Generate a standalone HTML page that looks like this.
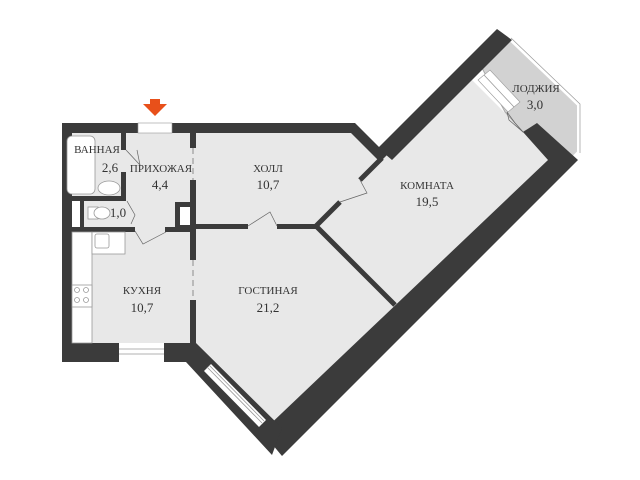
<!DOCTYPE html>
<html><head><meta charset="utf-8"><style>
html,body{margin:0;padding:0;background:#fff;width:640px;height:480px;overflow:hidden}
text{font-family:"Liberation Serif",serif;fill:#333;text-anchor:middle}
.l{font-size:11px}.n{font-size:13px}
</style></head><body>
<svg width="640" height="480" viewBox="0 0 640 480" xmlns="http://www.w3.org/2000/svg">
<polygon points="72,133 355,133 380,157 468,76 550,158 282,428 196,343 72,343" fill="#e8e8e8"/>
<polygon points="482,68 510,40 578,105 578,152 570,160 537,125 523,132 505,112" fill="#d2d2d2" stroke="#aaa" stroke-width="1"/>
<polyline points="510,40 578,105 578,152 570,160" fill="none" stroke="#fff" stroke-width="2"/>
<polyline points="511,38 580,104 580,153" fill="none" stroke="#999" stroke-width="0.7"/>
<g fill="#3b3b3b" stroke="none">
<rect x="62" y="123" width="10" height="239"/>
<rect x="62" y="123" width="293" height="10"/>
<rect x="62" y="343" width="126" height="19"/>
<polygon points="355,123 387,155 380,162 351,133"/>
<polygon points="378,148 497,29 512,40 392,160"/>
<polygon points="523,132 537,123 578,160 282,456 262,432 548,160"/>
<polygon points="180,343 196,343 282,428 272,455 186,362 180,362"/>
</g>
<rect x="138" y="123" width="34" height="10" fill="#fff" stroke="#999" stroke-width="0.6"/>
<rect x="119" y="343" width="45" height="19" fill="#fff"/>
<line x1="119" y1="349" x2="164" y2="349" stroke="#999" stroke-width="0.7"/>
<line x1="119" y1="354" x2="164" y2="354" stroke="#999" stroke-width="0.7"/>
<polygon points="204,371 211,364 266,420 259,427" fill="#fff"/>
<line x1="207" y1="367" x2="262" y2="423" stroke="#999" stroke-width="0.8"/>
<line x1="209" y1="365" x2="264" y2="421" stroke="#999" stroke-width="0.8"/>
<polygon points="478,80 490,70 520,102 508,112" fill="#fff" stroke="#999" stroke-width="0.6"/>
<line x1="484" y1="75" x2="514" y2="107" stroke="#999" stroke-width="0.8"/>
<polygon points="143,104 167,104 155,116" fill="#e8501a"/>
<rect x="150" y="99" width="10" height="6" fill="#e8501a"/>
<g fill="#3b3b3b">
<rect x="190" y="133" width="6" height="15"/>
<rect x="190" y="180" width="6" height="80"/>
<rect x="190" y="300" width="6" height="45"/>
<rect x="121" y="133" width="5" height="17"/>
<rect x="121" y="172" width="5" height="25"/>
<rect x="62" y="196" width="64" height="5"/>
<rect x="80" y="201" width="4" height="27"/>
<rect x="62" y="227" width="73" height="5"/>
<rect x="165" y="227" width="31" height="5"/>
<rect x="175" y="202" width="21" height="28"/>
<rect x="196" y="224" width="52" height="5"/>
<rect x="277" y="224" width="40" height="5"/>
</g>
<rect x="180" y="207" width="10" height="18" fill="#fff"/>
<line x1="316" y1="226" x2="395" y2="305" stroke="#3b3b3b" stroke-width="5"/>
<line x1="316" y1="226" x2="340" y2="202" stroke="#3b3b3b" stroke-width="5"/>
<line x1="360" y1="180" x2="382" y2="158" stroke="#3b3b3b" stroke-width="5"/>
<g fill="none" stroke="#666" stroke-width="0.7">
<polyline points="248,226 270,212 277,226"/>
<polyline points="340,202 367,193 360,180"/>
<polyline points="126,150 140,165 137,150"/>
<polyline points="135,231 143,244 166,232"/>
<polyline points="127,201 135,215 131,224"/>
<polyline points="507,112 515,123 523,132 509,120 507,112"/>
<line x1="193" y1="148" x2="193" y2="180" stroke-dasharray="6,4"/>
<line x1="193" y1="260" x2="193" y2="300" stroke-dasharray="6,4"/>
</g>
<g fill="#fff" stroke="#999" stroke-width="0.8">
<rect x="67" y="136" width="28" height="58" rx="5"/>
<ellipse cx="109" cy="188" rx="11" ry="7"/>
<rect x="72" y="201" width="8" height="26" stroke="none"/>
<rect x="88" y="207" width="10" height="12"/>
<ellipse cx="102" cy="213" rx="8" ry="6"/>
<rect x="72" y="232" width="20" height="111"/>
<rect x="92" y="232" width="33" height="22"/>
<rect x="95" y="234" width="14" height="14" rx="2"/>
<rect x="72" y="285" width="20" height="22"/>
<circle cx="77" cy="290" r="2.5"/><circle cx="86" cy="290" r="2.5"/>
<circle cx="77" cy="300" r="2.5"/><circle cx="86" cy="300" r="2.5"/>
</g>
<text class="l" x="97" y="153">ВАННАЯ</text>
<text class="n" x="110" y="172">2,6</text>
<text class="l" x="161" y="172">ПРИХОЖАЯ</text>
<text class="n" x="160" y="189">4,4</text>
<text class="l" x="268" y="172">ХОЛЛ</text>
<text class="n" x="268" y="189">10,7</text>
<text class="n" x="118" y="217">1,0</text>
<text class="l" x="427" y="189">КОМНАТА</text>
<text class="n" x="427" y="206">19,5</text>
<text class="l" x="536" y="92">ЛОДЖИЯ</text>
<text class="n" x="535" y="109">3,0</text>
<text class="l" x="142" y="294">КУХНЯ</text>
<text class="n" x="142" y="312">10,7</text>
<text class="l" x="268" y="294">ГОСТИНАЯ</text>
<text class="n" x="268" y="312">21,2</text>
</svg>
</body></html>
